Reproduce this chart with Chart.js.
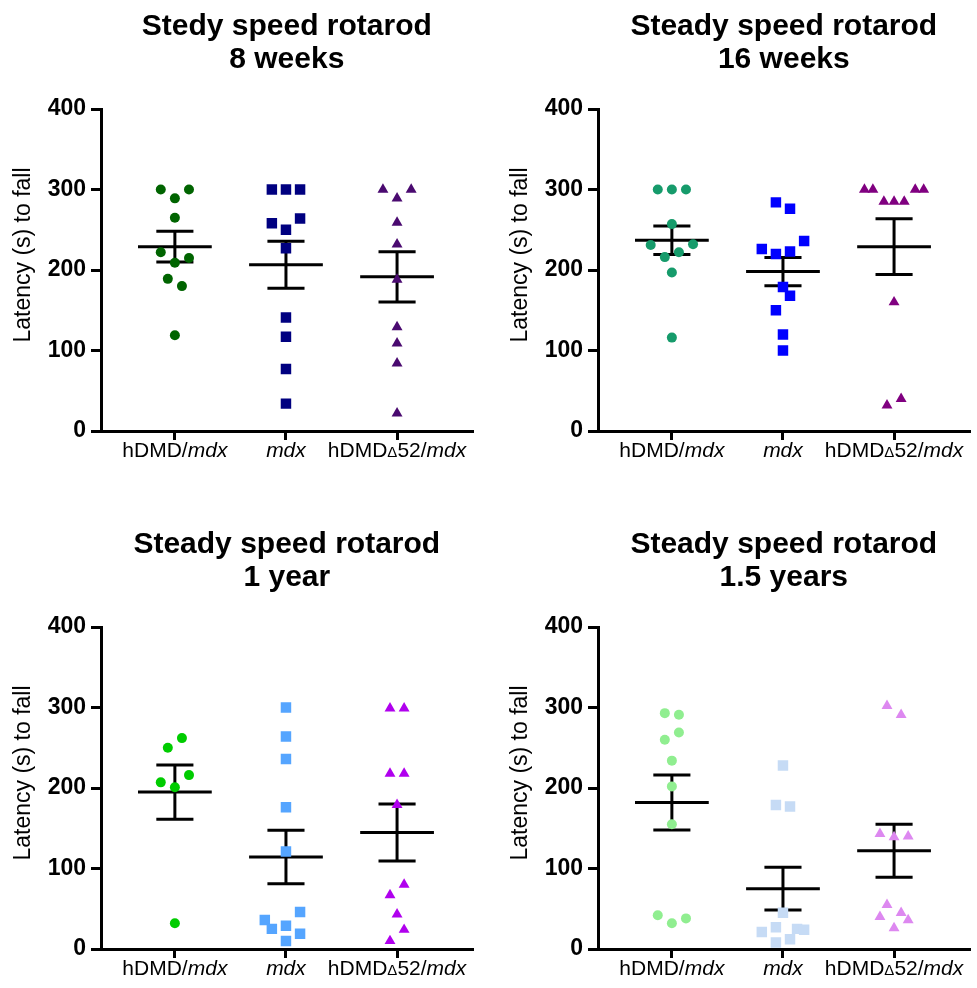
<!DOCTYPE html>
<html><head><meta charset="utf-8">
<script src="https://cdn.jsdelivr.net/npm/chart.js@4.4.1/dist/chart.umd.min.js"></script>
<style>
html,body{margin:0;padding:0;background:#fff;width:977px;height:988px;overflow:hidden;}
.p{position:absolute;width:480px;height:470px;}
canvas{display:block;}
</style></head><body>
<div class="p" style="left:0;top:0"><canvas id="c1" width="480" height="470"></canvas></div>
<div class="p" style="left:497px;top:0"><canvas id="c2" width="480" height="470"></canvas></div>
<div class="p" style="left:0;top:518px"><canvas id="c3" width="480" height="470"></canvas></div>
<div class="p" style="left:497px;top:518px"><canvas id="c4" width="480" height="470"></canvas></div>
<script>
// ---------- data ----------
const categories = ['hDMD/mdx', 'mdx', 'hDMDΔ52/mdx'];
const yTicks = [0, 100, 200, 300, 400];
const yTitle = 'Latency (s) to fall';

const title8w  = ['Stedy speed rotarod', '8 weeks'];
const title16w = ['Steady speed rotarod', '16 weeks'];
const title1y  = ['Steady speed rotarod', '1 year'];
const title15y = ['Steady speed rotarod', '1.5 years'];

// 8 weeks
const w8_hDMD   = [300, 300, 289, 265, 222, 215, 209, 189, 180, 119];
const w8_hDMD_j = [-1, 1, 0, 0, -1, 1, 0, -0.5, 0.5, 0];
const w8_mdx    = [300, 300, 300, 258, 264, 250, 227, 141, 117, 77, 34];
const w8_mdx_j  = [-1, 0, 1, -1, 1, 0, 0, 0, 0, 0, 0];
const w8_d52    = [300, 300, 289, 259, 232, 188, 129, 109, 84, 22];
const w8_d52_j  = [-1, 1, 0, 0, 0, 0, 0, 0, 0, 0];
const w8_mean = [229, 206.5, 191.5];
const w8_sem  = [19, 29.3, 31.3];

// 16 weeks
const w16_hDMD   = [300, 300, 300, 257, 231, 232, 216, 222, 197, 116];
const w16_hDMD_j = [-1, 0, 1, 0, -1.5, 1.5, -0.5, 0.5, 0, 0];
const w16_mdx    = [284, 276, 236, 226, 220, 223, 179, 168, 150, 120, 100];
const w16_mdx_j  = [-0.5, 0.5, 1.5, -1.5, -0.5, 0.5, 0, 0.5, -0.5, 0, 0];
const w16_d52    = [300, 300, 300, 300, 285, 285, 285, 160, 32, 40];
const w16_d52_j  = [-2.1, -1.5, 1.5, 2.1, -0.72, 0, 0.72, 0, -0.5, 0.5];
const w16_mean = [237, 198, 229];
const w16_sem  = [17.8, 17.5, 34.7];

// 1 year
const y1_hDMD   = [262, 250, 216, 207, 201, 32];
const y1_hDMD_j = [0.5, -0.5, 1, -1, 0, 0];
const y1_mdx    = [300, 264, 236, 176, 121, 36, 46, 25, 29, 19, 10];
const y1_mdx_j  = [0, 0, 0, 0, 0, -1.5, 1, -1, 0, 1, 0];
const y1_d52    = [299, 299, 218, 218, 179, 80, 67, 43, 24, 10];
const y1_d52_j  = [-0.5, 0.5, -0.5, 0.5, 0, 0.5, -0.5, 0, 0.5, -0.5];
const y1_mean = [195, 114.4, 144.7];
const y1_sem  = [33.7, 33.2, 35.3];

// 1.5 years
const y15_hDMD   = [293, 291, 269, 260, 234, 202, 155, 42, 32, 38];
const y15_hDMD_j = [-0.5, 0.5, 0.5, -0.5, 0, 0, 0, -1, 0, 1];
const y15_mdx    = [228, 179, 177, 45, 27, 21, 25, 24, 12, 8];
const y15_mdx_j  = [0, -0.5, 0.5, 0, -0.5, -1.5, 1, 1.5, 0.5, -0.5];
const y15_d52    = [302, 291, 143, 139, 140, 55, 45, 40, 36, 26];
const y15_d52_j  = [-0.5, 0.5, -1, 0, 1, -0.5, 0.5, -1, 1, 0];
const y15_mean = [182, 75, 122];
const y15_sem  = [34.2, 26.5, 33];

// ---------- styling ----------
const FONT = '"Liberation Sans", Arial, Helvetica, sans-serif';
const JIT = 0.127;          // jitter unit in category widths
const MEAN_HALF = 0.332;
const CAP_HALF = 0.167;

const panelText = {
  id: 'panelText',
  afterDraw(chart, args, o) {
    const ctx = chart.ctx, a = chart.chartArea;
    ctx.save();
    ctx.fillStyle = '#000';
    ctx.textAlign = 'center';
    ctx.textBaseline = 'alphabetic';
    ctx.font = 'bold 30px ' + FONT;
    const cx = (a.left + a.right) / 2;
    ctx.fillText(o.title[0], cx, 35);
    ctx.fillText(o.title[1], cx, 68);
    // y title
    ctx.save();
    ctx.translate(24, (a.top + a.bottom) / 2 - 15);
    ctx.rotate(-Math.PI / 2);
    ctx.font = '23px ' + FONT;
    ctx.textBaseline = 'middle';
    ctx.fillText(o.yTitle, 0, 0);
    ctx.restore();
    // x labels with italic mdx and small delta
    const xs = chart.scales.x;
    ctx.textAlign = 'left';
    o.labels.forEach((lab, i) => {
      const parts = lab.split(/(mdx|Δ)/).filter(s => s);
      const fonts = parts.map(p => p === 'mdx' ? 'italic 21px ' + FONT : (p === 'Δ' ? '15px ' + FONT : '21px ' + FONT));
      let w = 0;
      const ws = parts.map((p, k) => { ctx.font = fonts[k]; const m = ctx.measureText(p).width; w += m; return m; });
      let x = xs.getPixelForValue(i) - w / 2;
      parts.forEach((p, k) => { ctx.font = fonts[k]; ctx.fillText(p, x, a.bottom + 26); x += ws[k]; });
    });
    ctx.restore();
  }
};

function makeChart(id, title, groups, means, sems, colors) {
  const styles = ['circle', 'rect', 'triangle'];
  const radii = [5, 7.4, 6.3];
  const ds = groups.map((g, i) => ({
    type: 'scatter',
    data: g[0].map((v, k) => ({ x: i + g[1][k] * JIT, y: v })),
    pointStyle: styles[i],
    pointRadius: radii[i],
    pointBackgroundColor: colors[i],
    pointBorderColor: colors[i],
    pointBorderWidth: 0,
    showLine: false
  }));
  const bars = [];
  means.forEach((m, i) => {
    const s = sems[i];
    bars.push(
      { x: i - MEAN_HALF, y: m }, { x: i + MEAN_HALF, y: m }, { x: i, y: null },
      { x: i, y: m - s }, { x: i, y: m + s }, { x: i, y: null },
      { x: i - CAP_HALF, y: m + s }, { x: i + CAP_HALF, y: m + s }, { x: i, y: null },
      { x: i - CAP_HALF, y: m - s }, { x: i + CAP_HALF, y: m - s }, { x: i, y: null }
    );
  });
  ds.push({ type: 'line', data: bars, borderColor: '#000', borderWidth: 3, pointRadius: 0,
            spanGaps: false, tension: 0, fill: false, borderCapStyle: 'butt' });

  new Chart(document.getElementById(id), {
    type: 'scatter',
    data: { datasets: ds },
    plugins: [panelText],
    options: {
      responsive: false, animation: false, devicePixelRatio: 1, events: [],
      layout: { padding: { top: 109, left: 0, right: 0, bottom: 0 } },
      plugins: {
        legend: { display: false }, tooltip: { enabled: false },
        panelText: { title: title, yTitle: yTitle, labels: categories }
      },
      scales: {
        x: {
          type: 'linear', min: -0.665, max: 2.68,
          afterBuildTicks: s => { s.ticks = [0, 1, 2].map(v => ({ value: v })); },
          afterFit: s => { s.height = 39; },
          ticks: { callback: () => '', padding: 0 },
          grid: { display: true, drawOnChartArea: false, drawTicks: true, tickLength: 9, color: '#000', lineWidth: 3 },
          border: { display: true, color: '#000', width: 3 }
        },
        y: {
          type: 'linear', min: 0, max: 400,
          afterBuildTicks: s => { s.ticks = yTicks.map(v => ({ value: v })); },
          afterFit: s => { s.width = 101; },
          ticks: { font: { family: FONT, size: 23, weight: 'bold' }, color: '#000', padding: 5 },
          grid: { display: true, drawOnChartArea: false, drawTicks: true, tickLength: 10, color: '#000', lineWidth: 3 },
          border: { display: true, color: '#000', width: 3 }
        }
      }
    }
  });
}

makeChart('c1', title8w, [[w8_hDMD, w8_hDMD_j], [w8_mdx, w8_mdx_j], [w8_d52, w8_d52_j]],
          w8_mean, w8_sem, ['#006400', '#000080', '#4a0a70']);
makeChart('c2', title16w, [[w16_hDMD, w16_hDMD_j], [w16_mdx, w16_mdx_j], [w16_d52, w16_d52_j]],
          w16_mean, w16_sem, ['#169b6b', '#0000ff', '#800080']);
makeChart('c3', title1y, [[y1_hDMD, y1_hDMD_j], [y1_mdx, y1_mdx_j], [y1_d52, y1_d52_j]],
          y1_mean, y1_sem, ['#00cc00', '#55a5ff', '#b000ee']);
makeChart('c4', title15y, [[y15_hDMD, y15_hDMD_j], [y15_mdx, y15_mdx_j], [y15_d52, y15_d52_j]],
          y15_mean, y15_sem, ['#90ee90', '#c6dbf5', '#dd88f0']);
</script>
</body></html>
